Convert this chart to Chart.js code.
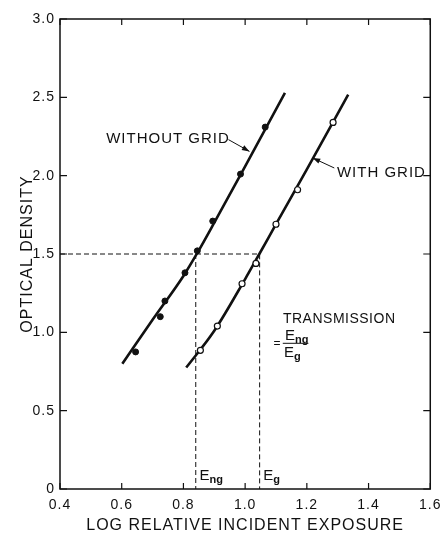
<!DOCTYPE html>
<html>
<head>
<meta charset="utf-8">
<script src="https://cdn.jsdelivr.net/npm/chart.js@4.4.1/dist/chart.umd.min.js"></script>
<style>
  html, body { margin: 0; padding: 0; background: #fff; }
  #wrap { width: 448px; height: 535px; }
</style>
</head>
<body>
<div id="wrap"><canvas id="densityChart"></canvas></div>
<script>
// measured points (log exposure, optical density)
const withoutGridX = [0.645, 0.725, 0.74, 0.805, 0.845, 0.895, 0.985, 1.065];
const withoutGridY = [0.875, 1.10, 1.20, 1.38, 1.52, 1.71, 2.01, 2.31];
const withGridX = [0.855, 0.91, 0.99, 1.035, 1.10, 1.17, 1.285];
const withGridY = [0.885, 1.04, 1.31, 1.44, 1.69, 1.91, 2.34];

// fitted curves
const withoutCurveX = [0.602, 0.70, 0.80, 0.846, 0.90, 1.00, 1.129];
const withoutCurveY = [0.80, 1.08, 1.36, 1.51, 1.70, 2.06, 2.528];
const withCurveX = [0.809, 0.90, 1.00, 1.046, 1.10, 1.20, 1.334];
const withCurveY = [0.775, 1.01, 1.34, 1.50, 1.69, 2.04, 2.517];

// reference density and the two exposures read at it
const refDensity = 1.5;
const eNg = 0.84;
const eG = 1.047;

const xTicks = [0.4, 0.6, 0.8, 1.0, 1.2, 1.4, 1.6];
const yTicks = [0, 0.5, 1.0, 1.5, 2.0, 2.5, 3.0];

const pts = (xs, ys) => xs.map((x, i) => ({ x: x, y: ys[i] }));

const FONT = '"Liberation Sans", Arial, Helvetica, sans-serif';
const INK = '#111';

// the typeset original is a bit wide-spaced
const spacingPlugin = {
    id: 'spacing',
    beforeDraw(chart) { chart.ctx.letterSpacing = '1px'; }
};

// frame, inward tick marks, labels and arrows
const paperPlugin = {
    id: 'paper',
    afterDatasetsDraw(chart) {
        const { ctx, chartArea: a, scales } = chart;
        const xs = scales.x, ys = scales.y;
        const px = v => xs.getPixelForValue(v);
        const py = v => ys.getPixelForValue(v);
        ctx.save();
        ctx.strokeStyle = INK;
        ctx.lineWidth = 1.5;
        ctx.strokeRect(a.left, a.top, a.right - a.left, a.bottom - a.top);

        ctx.lineWidth = 1.2;
        ctx.beginPath();
        xTicks.forEach(v => {
            const x = px(v);
            ctx.moveTo(x, a.bottom); ctx.lineTo(x, a.bottom - 6);
            ctx.moveTo(x, a.top); ctx.lineTo(x, a.top + 6);
        });
        yTicks.forEach(v => {
            const y = py(v);
            ctx.moveTo(a.left, y); ctx.lineTo(a.left + 7, y);
            ctx.moveTo(a.right, y); ctx.lineTo(a.right - 7, y);
        });
        ctx.stroke();

        ctx.fillStyle = INK;
        ctx.textBaseline = 'middle';
        ctx.textAlign = 'left';
        ctx.letterSpacing = '1px';
        ctx.font = '15px ' + FONT;
        ctx.fillText('WITHOUT GRID', px(0.5496), py(2.236));
        ctx.fillText('WITH GRID', px(1.2975), py(2.019));
        ctx.letterSpacing = '0.5px';
        ctx.font = '14px ' + FONT;
        ctx.fillText('TRANSMISSION', px(1.1225), py(1.083));
        ctx.letterSpacing = '0px';

        // arrows
        const arrow = (x0, y0, x1, y1) => {
            const sx = px(x0), sy = py(y0), ex = px(x1), ey = py(y1);
            const ang = Math.atan2(ey - sy, ex - sx);
            ctx.lineWidth = 1;
            ctx.beginPath();
            ctx.moveTo(sx, sy); ctx.lineTo(ex, ey);
            ctx.stroke();
            ctx.beginPath();
            ctx.moveTo(ex, ey);
            ctx.lineTo(ex - 8 * Math.cos(ang - 0.35), ey - 8 * Math.sin(ang - 0.35));
            ctx.lineTo(ex - 8 * Math.cos(ang + 0.35), ey - 8 * Math.sin(ang + 0.35));
            ctx.closePath();
            ctx.fill();
        };
        arrow(0.946, 2.23, 1.014, 2.155);
        arrow(1.289, 2.049, 1.219, 2.113);

        // E with subscript
        ctx.textBaseline = 'alphabetic';
        const sub = (main, s, x, y) => {
            ctx.font = '15px ' + FONT;
            ctx.fillText(main, x, y);
            const w = ctx.measureText(main).width;
            ctx.font = 'bold 11px ' + FONT;
            ctx.fillText(s, x + w, y + 3);
        };
        sub('E', 'ng', px(1.129), py(0.952));
        sub('E', 'g', px(1.126), py(0.843));
        ctx.lineWidth = 1;
        ctx.beginPath();
        ctx.moveTo(px(1.122), py(0.93));
        ctx.lineTo(px(1.205), py(0.93));
        ctx.stroke();
        ctx.font = '12px ' + FONT;
        ctx.textBaseline = 'middle';
        ctx.fillText('=', px(1.092), py(0.925));
        ctx.textBaseline = 'alphabetic';
        sub('E', 'ng', px(0.852), py(0.0575));
        sub('E', 'g', px(1.059), py(0.0575));
        ctx.restore();
    }
};

document.addEventListener('DOMContentLoaded', function () {
    const ctx = document.getElementById('densityChart').getContext('2d');

    new Chart(ctx, {
        type: 'scatter',
        data: {
            datasets: [
                {
                    label: 'Without grid',
                    data: pts(withoutGridX, withoutGridY),
                    pointRadius: 3,
                    pointBackgroundColor: INK,
                    pointBorderColor: INK,
                    order: 0
                },
                {
                    label: 'With grid',
                    data: pts(withGridX, withGridY),
                    pointRadius: 3,
                    pointBorderWidth: 1.2,
                    pointBackgroundColor: '#fff',
                    pointBorderColor: INK,
                    order: 0
                },
                {
                    label: 'Without grid fit',
                    data: pts(withoutCurveX, withoutCurveY),
                    showLine: true,
                    pointRadius: 0,
                    borderColor: INK,
                    borderWidth: 2.6,
                    cubicInterpolationMode: 'monotone',
                    order: 1
                },
                {
                    label: 'With grid fit',
                    data: pts(withCurveX, withCurveY),
                    showLine: true,
                    pointRadius: 0,
                    borderColor: INK,
                    borderWidth: 2.6,
                    cubicInterpolationMode: 'monotone',
                    order: 1
                },
                {
                    label: 'Eg',
                    data: [{ x: 0.4, y: refDensity }, { x: eG, y: refDensity }, { x: eG, y: 0 }],
                    showLine: true,
                    pointRadius: 0,
                    borderColor: INK,
                    borderWidth: 1,
                    borderDash: [5, 3],
                    order: 2
                },
                {
                    label: 'Eng',
                    data: [{ x: eNg, y: refDensity }, { x: eNg, y: 0 }],
                    showLine: true,
                    pointRadius: 0,
                    borderColor: INK,
                    borderWidth: 1,
                    borderDash: [5, 3],
                    order: 2
                }
            ]
        },
        options: {
            responsive: true,
            maintainAspectRatio: false,
            animation: false,
            layout: { padding: { top: 19, right: 11, left: 0, bottom: 0 } },
            plugins: {
                legend: { display: false },
                tooltip: { enabled: false }
            },
            scales: {
                x: {
                    type: 'linear',
                    min: 0.4,
                    max: 1.6,
                    afterBuildTicks: s => { s.ticks = xTicks.map(v => ({ value: v })); },
                    afterFit: s => { s.height = 46; },
                    grid: { display: false, drawTicks: false },
                    border: { display: false },
                    ticks: {
                        padding: 8,
                        color: INK,
                        font: { family: FONT, size: 14 },
                        callback: v => v.toFixed(1)
                    },
                    title: {
                        display: true,
                        text: 'LOG RELATIVE INCIDENT EXPOSURE',
                        color: INK,
                        font: { family: FONT, size: 16 },
                        padding: { top: 0, bottom: 0 }
                    }
                },
                y: {
                    type: 'linear',
                    min: 0,
                    max: 3.0,
                    afterBuildTicks: s => { s.ticks = yTicks.map(v => ({ value: v })); },
                    afterFit: s => { s.width = 60; },
                    grid: { display: false, drawTicks: false },
                    border: { display: false },
                    ticks: {
                        padding: 5,
                        color: INK,
                        font: { family: FONT, size: 14 },
                        callback: v => (v === 0 ? '0' : v.toFixed(1))
                    },
                    title: {
                        display: true,
                        text: 'OPTICAL DENSITY',
                        color: INK,
                        font: { family: FONT, size: 16 },
                        padding: { top: 18, bottom: 0 }
                    }
                }
            }
        },
        plugins: [spacingPlugin, paperPlugin]
    });
});
</script>
</body>
</html>
